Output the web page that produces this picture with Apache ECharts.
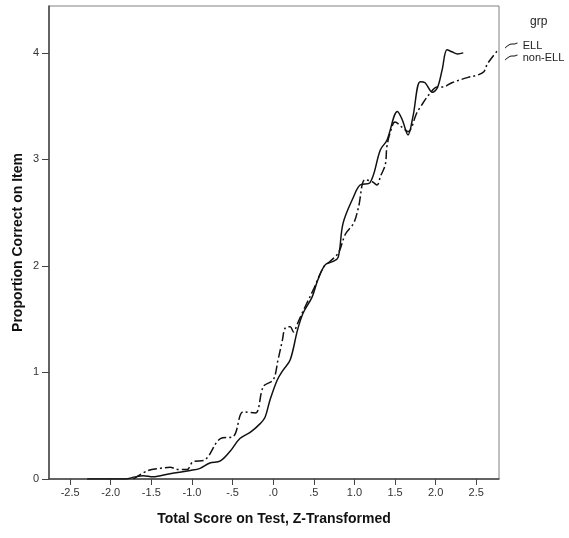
<!DOCTYPE html>
<html>
<head>
<meta charset="utf-8">
<script src="https://cdn.jsdelivr.net/npm/echarts@6/dist/echarts.min.js"></script>
<style>
  html, body { margin: 0; padding: 0; background: #fff; }
  #chart { width: 569px; height: 538px; }
</style>
</head>
<body>
<div id="chart"></div>
<script>
// tick positions
const xTicks = [-2.5, -2.0, -1.5, -1.0, -0.5, 0, 0.5, 1.0, 1.5, 2.0, 2.5];
const yTicks = [0, 1, 2, 3, 4];

// ELL curve (solid)
const ellX = [-2.29, -1.82, -1.70, -1.60, -1.48, -1.27, -1.02, -0.90, -0.78, -0.65, -0.53, -0.41, -0.28, -0.16, -0.10, -0.04, 0.05, 0.12, 0.21, 0.30, 0.37, 0.48, 0.55, 0.64, 0.73, 0.80, 0.86, 0.99, 1.07, 1.19, 1.32, 1.40, 1.53, 1.59, 1.66, 1.72, 1.81, 1.87, 1.96, 2.02, 2.08, 2.14, 2.20, 2.27, 2.34];
const ellY = [0, 0, 0.02, 0.03, 0.02, 0.05, 0.08, 0.10, 0.15, 0.17, 0.26, 0.38, 0.44, 0.52, 0.58, 0.74, 0.93, 1.02, 1.12, 1.40, 1.56, 1.71, 1.87, 2.01, 2.04, 2.08, 2.40, 2.65, 2.76, 2.78, 3.09, 3.18, 3.45, 3.37, 3.23, 3.40, 3.73, 3.72, 3.63, 3.67, 3.84, 4.03, 4.01, 3.99, 4.00];

// non-ELL curve (dash-dot)
const nonEllX = [-1.72, -1.54, -1.39, -1.27, -1.17, -1.06, -0.99, -0.84, -0.65, -0.49, -0.37, -0.22, -0.12, 0.00, 0.06, 0.11, 0.15, 0.21, 0.25, 0.30, 0.37, 0.49, 0.62, 0.68, 0.80, 0.89, 0.99, 1.05, 1.13, 1.22, 1.28, 1.32, 1.38, 1.40, 1.44, 1.50, 1.59, 1.66, 1.77, 1.81, 1.93, 2.02, 2.09, 2.20, 2.40, 2.51, 2.59, 2.64, 2.77];
const nonEllY = [0, 0.08, 0.10, 0.11, 0.09, 0.09, 0.16, 0.18, 0.38, 0.40, 0.63, 0.62, 0.87, 0.93, 1.12, 1.29, 1.42, 1.43, 1.38, 1.46, 1.58, 1.77, 1.99, 2.03, 2.12, 2.30, 2.40, 2.55, 2.81, 2.79, 2.76, 2.84, 2.95, 3.12, 3.25, 3.35, 3.30, 3.26, 3.44, 3.49, 3.62, 3.68, 3.68, 3.72, 3.77, 3.79, 3.82, 3.90, 4.03];

const pairs = (xs, ys) => xs.map((x, i) => [x, ys[i]]);
const fontFamily = '"Liberation Sans", Arial, sans-serif';
// little curved stroke used as legend key
const curveIcon = 'path://M0,8 C4,4 8,1 12,1.5 C15,2 17,1 20,0 L20,1.6 C17,2.6 15,3.6 12,3.1 C8,2.6 4,5.6 0,9.6 Z';

const chart = echarts.init(document.getElementById('chart'));
chart.setOption({
  animation: false,
  textStyle: { fontFamily: fontFamily },
  grid: {
    left: 49, right: 70, top: 6, bottom: 59,
    show: true, borderColor: '#808080', borderWidth: 1
  },
  legend: {
    orient: 'vertical',
    left: 500, top: 35,
    icon: curveIcon,
    itemWidth: 19, itemHeight: 6, itemGap: 1,
    textStyle: { fontSize: 11, color: '#222', fontFamily: fontFamily, padding: [0, 0, 0, -3] },
    data: ['ELL', 'non-ELL']
  },
  graphic: [{
    type: 'text', left: 530, top: 16,
    style: { text: 'grp', fontSize: 12, fill: '#222', fontFamily: fontFamily }
  }],
  xAxis: {
    type: 'value', min: -2.76, max: 2.78,
    name: 'Total Score on Test, Z-Transformed',
    nameLocation: 'middle', nameGap: 33, nameMoveOverlap: false,
    nameTextStyle: { fontSize: 14, fontWeight: 'bold', color: '#111' },
    axisLine: { onZero: false, lineStyle: { color: '#444', width: 1.5 } },
    axisTick: { show: true, inside: false, length: 6, customValues: xTicks, lineStyle: { color: '#444' } },
    axisLabel: {
      customValues: xTicks, margin: 8, fontSize: 11, color: '#333',
      formatter: v => v.toFixed(1).replace(/^(-?)0\./, '$1.')
    },
    splitLine: { show: false }
  },
  yAxis: {
    type: 'value', min: 0, max: 4.44,
    name: 'Proportion Correct on Item',
    nameLocation: 'middle', nameGap: 24, nameMoveOverlap: false,
    nameTextStyle: { fontSize: 14, fontWeight: 'bold', color: '#111' },
    axisLine: { show: true, onZero: false, lineStyle: { color: '#444', width: 1.5 } },
    axisTick: { show: true, inside: false, length: 7, customValues: yTicks, lineStyle: { color: '#444' } },
    axisLabel: { customValues: yTicks, margin: 10, fontSize: 11, color: '#333' },
    splitLine: { show: false }
  },
  series: [
    {
      name: 'ELL', type: 'line', smooth: 0.35, symbol: 'none',
      lineStyle: { color: '#111', width: 1.5 },
      itemStyle: { color: '#111' },
      data: pairs(ellX, ellY)
    },
    {
      name: 'non-ELL', type: 'line', smooth: 0.35, symbol: 'none',
      lineStyle: { color: '#111', width: 1.5, type: [9, 3, 2, 3] },
      itemStyle: { color: '#111' },
      data: pairs(nonEllX, nonEllY)
    }
  ]
});
</script>
</body>
</html>
